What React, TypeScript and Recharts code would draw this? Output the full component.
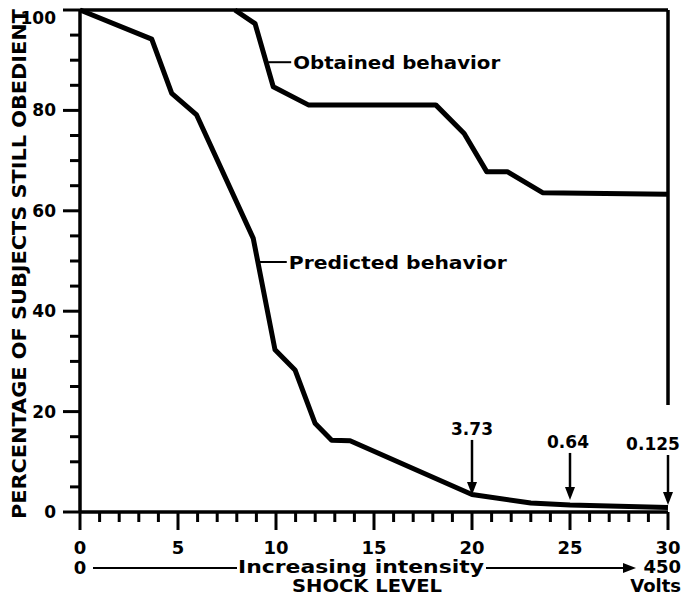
import React from 'react';
import { LineChart, Line, XAxis, YAxis, ReferenceLine, ReferenceDot } from 'recharts';

// Predicted behavior curve (shock level vs % still obedient)
const predictedLevel = [0, 3.66, 4.68, 5.95, 8.84, 9.95, 10.97, 11.99, 12.84, 13.78, 20, 23, 25, 30];
const predictedPct = [100, 94.2, 83.4, 79.1, 54.5, 32.3, 28.3, 17.7, 14.3, 14.2, 3.5, 1.8, 1.4, 0.9];

// Obtained behavior curve
const obtainedLevel = [7.9, 8.93, 9.86, 11.65, 18.15, 19.6, 20.75, 21.8, 23.6, 30];
const obtainedPct = [100, 97.3, 84.7, 81.1, 81.1, 75.4, 67.8, 67.8, 63.6, 63.3];

// Ticks
const xTicks = [0, 1, 2, 3, 4, 5, 6, 7, 8, 9, 10, 11, 12, 13, 14, 15, 16, 17, 18, 19, 20, 21, 22, 23, 24, 25, 26, 27, 28, 29, 30];
const xMajorTicks = [0, 5, 10, 15, 20, 25, 30];
const yTicks = [0, 5, 10, 15, 20, 25, 30, 35, 40, 45, 50, 55, 60, 65, 70, 75, 80, 85, 90, 95, 100];
const yMajorTicks = [0, 20, 40, 60, 80, 100];

// Arrow annotations
const arrowLevel = [20, 25, 30];
const arrowTipPct = [3.4, 2.4, 1.4];
const arrowLabels = ['3.73', '0.64', '0.125'];

// Curve labels
const curveLabels = ['Obtained behavior', 'Predicted behavior'];
const curveLabelLevel = [9.5, 9.07];
const curveLabelPct = [89.6, 49.8];

const predictedData = predictedLevel.map((x, i) => ({ x, y: predictedPct[i] }));
const obtainedData = obtainedLevel.map((x, i) => ({ x, y: obtainedPct[i] }));

const FONT = '"DejaVu Sans", sans-serif';

const XTick = (props: any) => {
  const x = Number(props.x);
  const y = Number(props.y);
  const v = props.payload.value;
  const major = xMajorTicks.includes(v);
  return (
    <g>
      <path d={`M${x},${y}V${y + (major ? 18 : 10)}`} stroke="#000" strokeWidth={3} fill="none" />
      {major && (
        <text x={x} y={y + 42} textAnchor="middle" fontFamily={FONT} fontWeight="bold" fontSize={18} fill="#000">
          {v}
        </text>
      )}
    </g>
  );
};

const YTick = (props: any) => {
  const x = Number(props.x);
  const y = Number(props.y);
  const v = props.payload.value;
  const major = yMajorTicks.includes(v);
  const len = major ? 17 : 10;
  return (
    <g>
      <path d={`M${x},${y}H${x - len}`} stroke="#000" strokeWidth={3} fill="none" />
      {major && (
        <text x={x - 24} y={y + (v === 100 ? 14 : 6)} textAnchor="end" fontFamily={FONT} fontWeight="bold" fontSize={17} fill="#000">
          {v}
        </text>
      )}
    </g>
  );
};

const XTitle = (props: any) => {
  const vb = props.viewBox || { x: 80, y: 512, width: 588, height: 83 };
  const { x, y, width } = vb;
  const right = x + width;
  const ly = y + 56;
  const tip = x + 556;
  return (
    <g fontFamily={FONT} fontWeight="bold" fill="#000">
      <text x={x} y={y + 62} textAnchor="middle" fontSize={18}>0</text>
      <line x1={x + 13} y1={ly} x2={x + 157} y2={ly} stroke="#000" strokeWidth={2} />
      <text x={x + 158} y={y + 61} fontSize={18} textLength={246} lengthAdjust="spacingAndGlyphs">Increasing intensity</text>
      <line x1={x + 406} y1={ly} x2={tip - 8} y2={ly} stroke="#000" strokeWidth={2} />
      <polygon points={`${tip},${ly} ${tip - 13},${ly - 5} ${tip - 13},${ly + 5}`} fill="#000" />
      <text x={right + 13} y={y + 61} textAnchor="end" fontSize={18}>450</text>
      <text x={right + 13} y={y + 80} textAnchor="end" fontSize={18}>Volts</text>
      <text x={x + 287} y={y + 80} textAnchor="middle" fontSize={17} textLength={150} lengthAdjust="spacingAndGlyphs">SHOCK LEVEL</text>
    </g>
  );
};

const YTitle = () => (
  <text
    x={0}
    y={0}
    transform="translate(26,264) rotate(-90)"
    textAnchor="middle"
    fontFamily={FONT}
    fontWeight="bold"
    fontSize={20}
    fill="#000"
    textLength={510}
    lengthAdjust="spacingAndGlyphs"
  >
    PERCENTAGE OF SUBJECTS STILL OBEDIENT
  </text>
);

const makeArrow = (label: string, dx: number, len: number) => (props: any) => {
  const { cx, cy } = props;
  return (
    <g>
      <line x1={cx} y1={cy - len} x2={cx} y2={cy - 10} stroke="#000" strokeWidth={2.5} />
      <polygon points={`${cx},${cy} ${cx - 5},${cy - 13} ${cx + 5},${cy - 13}`} fill="#000" />
      <text x={cx + dx} y={cy - len - 5} textAnchor="middle" fontFamily={FONT} fontWeight="bold" fontSize={17} fill="#000">
        {label}
      </text>
    </g>
  );
};

const arrowLens = [55, 47, 50];
const arrowDx = [0, -2, -15];

const makeCurveLabel = (label: string, lead: number, width: number) => (props: any) => {
  const { cx, cy } = props;
  return (
    <g>
      <line x1={cx + 2} y1={cy} x2={cx + lead} y2={cy} stroke="#000" strokeWidth={2} />
      <text x={cx + lead + 2} y={cy + 7} fontFamily={FONT} fontWeight="bold" fontSize={18} fill="#000" textLength={width} lengthAdjust="spacingAndGlyphs">
        {label}
      </text>
    </g>
  );
};

const curveLead = [25, 29];
const curveWidth = [207, 218];

export default function App() {
  return (
    <div style={{ position: 'absolute', left: 0, top: 0, background: '#fff' }}>
      <LineChart width={682} height={595} margin={{ top: 10, right: 14, bottom: 0, left: 0 }}>
        <XAxis
          type="number"
          dataKey="x"
          domain={[0, 30]}
          ticks={xTicks}
          interval={0}
          height={83}
          tickSize={0}
          tickMargin={0}
          tickLine={false}
          axisLine={{ stroke: '#000', strokeWidth: 3.5 }}
          tick={<XTick />}
          label={{ content: (p: any) => <XTitle {...p} /> }}
        />
        <YAxis
          type="number"
          dataKey="y"
          domain={[0, 100]}
          ticks={yTicks}
          interval={0}
          width={80}
          tickSize={0}
          tickMargin={0}
          tickLine={false}
          axisLine={{ stroke: '#000', strokeWidth: 3.5 }}
          tick={<YTick />}
          label={{ content: () => <YTitle /> }}
        />
        <ReferenceLine y={100} stroke="#000" strokeWidth={3.5} ifOverflow="visible" />
        <ReferenceLine
          segment={[{ x: 30, y: 100 }, { x: 30, y: 21.3 }]}
          stroke="#000"
          strokeWidth={3.5}
          ifOverflow="visible"
        />
        <Line
          data={predictedData}
          dataKey="y"
          type="linear"
          stroke="#000"
          strokeWidth={5}
          dot={false}
          strokeLinejoin="round"
          isAnimationActive={false}
        />
        <Line
          data={obtainedData}
          dataKey="y"
          type="linear"
          stroke="#000"
          strokeWidth={5}
          dot={false}
          strokeLinejoin="round"
          isAnimationActive={false}
        />
        {arrowLevel.map((lv, i) => (
          <ReferenceDot
            key={'a' + i}
            x={lv}
            y={arrowTipPct[i]}
            ifOverflow="visible"
            shape={makeArrow(arrowLabels[i], arrowDx[i], arrowLens[i])}
          />
        ))}
        {curveLabels.map((lb, i) => (
          <ReferenceDot
            key={'c' + i}
            x={curveLabelLevel[i]}
            y={curveLabelPct[i]}
            ifOverflow="visible"
            shape={makeCurveLabel(lb, curveLead[i], curveWidth[i])}
          />
        ))}
      </LineChart>
    </div>
  );
}
